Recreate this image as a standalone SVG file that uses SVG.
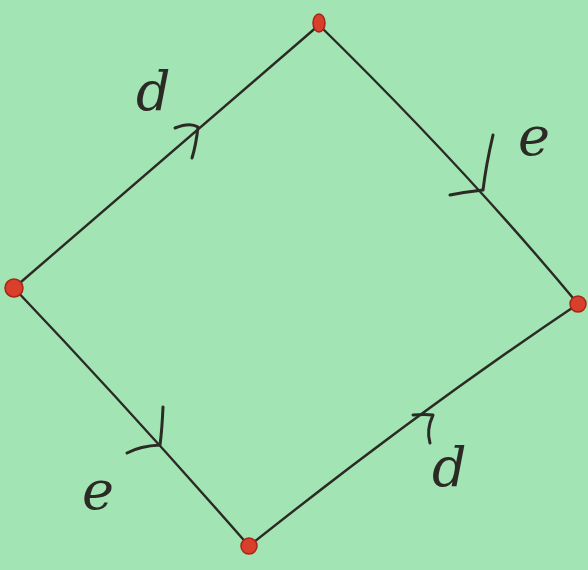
<svg xmlns="http://www.w3.org/2000/svg" width="588" height="570" viewBox="0 0 588 570">
<style>
.edge{fill:none;stroke:#2b2a24;stroke-width:2.4;stroke-linecap:round}
.arr{fill:none;stroke:#2b2a24;stroke-width:3;stroke-linecap:round;stroke-linejoin:round}
.v{fill:#d9402c;stroke:#a82416;stroke-width:1.5}
.lbl{font-family:"DejaVu Serif","Liberation Serif",serif;font-style:italic;font-size:54px;fill:#2b2a24}
</style>
<rect width="588" height="570" fill="#a2e4b3"/>
<g id="connectors">
<path class="edge" d="M14,288 L319,25"/>
<path class="edge" d="M319,25 Q465,168 578,304"/>
<path class="edge" d="M14,288 Q130,410 249,546"/>
<path class="edge" d="M249,546 Q420,410 578,304"/>
<path class="arr" d="M175,128 Q190,122 198,127 Q196,145 192,158"/>
<path class="arr" d="M493,135 Q486,165 483,190 Q465,192 450,195"/>
<path class="arr" d="M163,407 Q162,430 160,445 Q140,446 127,453"/>
<path class="arr" d="M413,415 Q425,414 433,415 Q426,430 430,443"/>
</g>
<g id="label-d1"><text class="lbl" x="136" y="110">d</text></g>
<g id="label-e1"><text class="lbl" x="518" y="155">e</text></g>
<g id="label-e2"><text class="lbl" x="82" y="509">e</text></g>
<g id="label-d2"><text class="lbl" x="432" y="486">d</text></g>
<g id="n-left"><circle class="v" cx="14" cy="288" r="9"/></g>
<g id="n-top"><ellipse class="v" cx="319" cy="23" rx="6" ry="9"/></g>
<g id="n-right"><circle class="v" cx="578" cy="304" r="8"/></g>
<g id="n-bottom"><circle class="v" cx="249" cy="546" r="8"/></g>
</svg>
